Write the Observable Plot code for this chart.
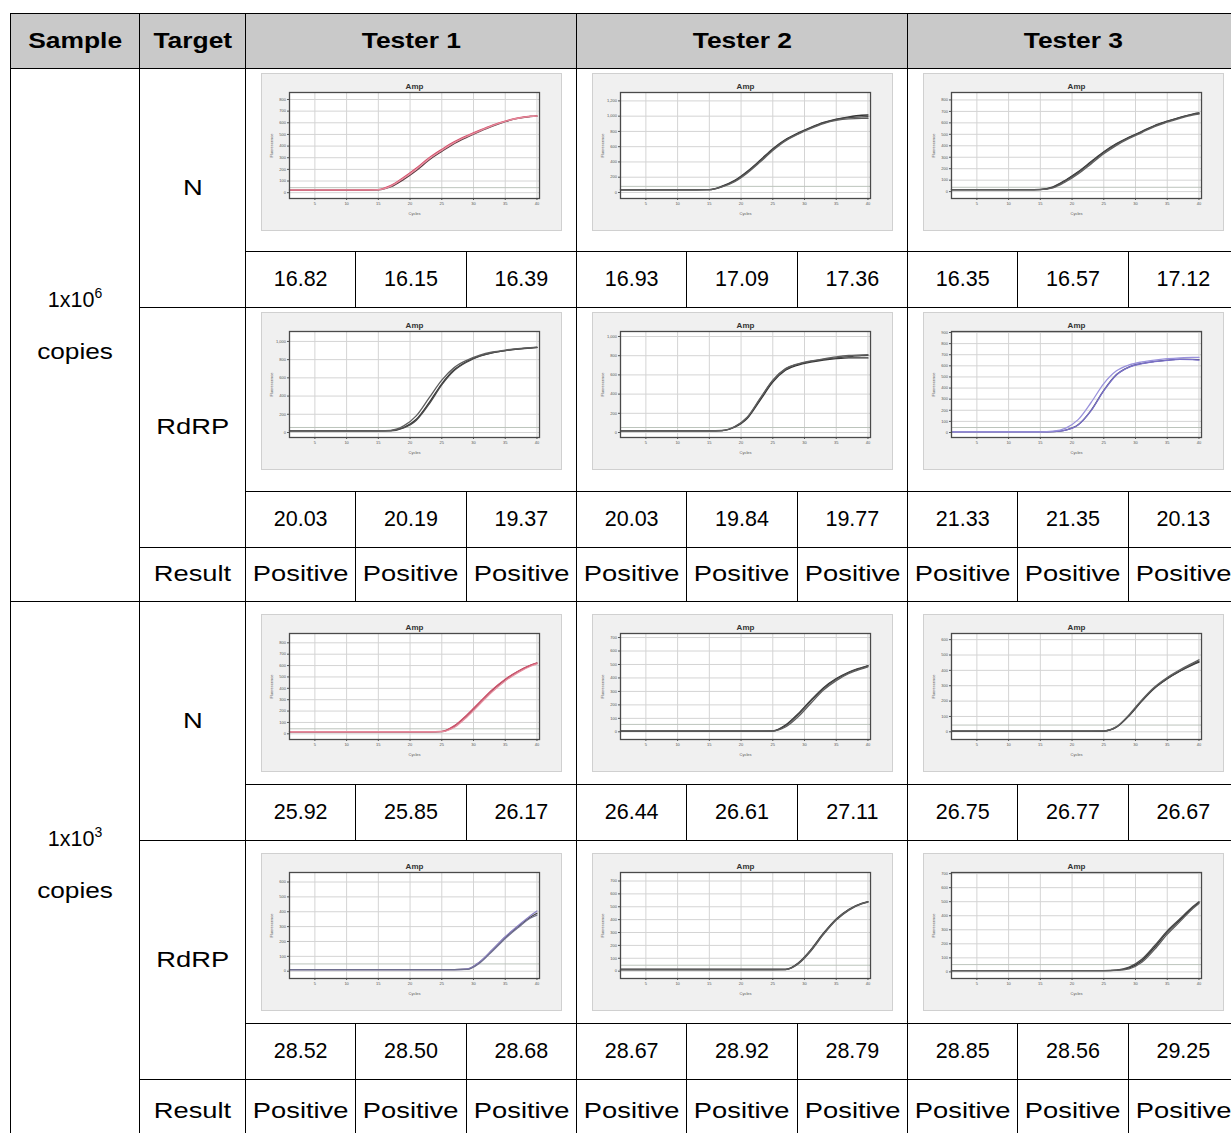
<!DOCTYPE html>
<html><head><meta charset="utf-8">
<script src="https://cdn.jsdelivr.net/npm/d3@7"></script>
<script src="https://cdn.jsdelivr.net/npm/@observablehq/plot@0.6"></script>
<style>
html,body{margin:0;padding:0;background:#fff;overflow:hidden;width:1231px;height:1133px;}
#tbl{position:absolute;left:10px;top:13px;border-collapse:collapse;table-layout:fixed;width:1228px;font-family:"Liberation Sans",Arial,sans-serif;color:#000;}
#tbl td,#tbl th{border:1.5px solid #000;padding:0;text-align:center;vertical-align:middle;overflow:hidden;white-space:nowrap;}
#tbl th{background:#c9c9c9;font-weight:bold;font-size:22px;}
#tbl td{font-size:21.5px;}
#tbl td.plotcell{text-align:left;vertical-align:top;padding-left:15px;}
.w{display:inline-block;transform:scaleX(1.27);transform-origin:center;}
th .w{transform:scaleX(1.2);}
.sample{line-height:52px;padding-bottom:24px;}
.sample .w{transform:scaleX(1.22);}
.sample sup{font-size:14px;position:relative;top:-1px;}
.thumb{width:301px;height:158px;box-sizing:border-box;border:1px solid #d0d0d0;background:#f0f0f0;}
.thumb svg{display:block;}
</style></head><body>
<table id="tbl"></table>
<script>
// ---------- table text ----------
const headers = ["Sample", "Target"];
const testers = ["Tester 1", "Tester 2", "Tester 3"];
const sampleBase = ["1x10", "1x10"];
const sampleExp = ["6", "3"];
const sampleUnit = ["copies", "copies"];
const targets = ["N", "RdRP"];
const resultLabel = "Result";
const ct_1e6_N = ["16.82", "16.15", "16.39", "16.93", "17.09", "17.36", "16.35", "16.57", "17.12"];
const ct_1e6_RdRP = ["20.03", "20.19", "19.37", "20.03", "19.84", "19.77", "21.33", "21.35", "20.13"];
const ct_1e3_N = ["25.92", "25.85", "26.17", "26.44", "26.61", "27.11", "26.75", "26.77", "26.67"];
const ct_1e3_RdRP = ["28.52", "28.50", "28.68", "28.67", "28.92", "28.79", "28.85", "28.56", "29.25"];
const results_1e6 = ["Positive", "Positive", "Positive", "Positive", "Positive", "Positive", "Positive", "Positive", "Positive"];
const results_1e3 = ["Positive", "Positive", "Positive", "Positive", "Positive", "Positive", "Positive", "Positive", "Positive"];

// ---------- amplification curves (cycle vs fluorescence) ----------
const cycles = [1, 4, 7, 10, 13, 15, 17, 19, 21, 23, 25, 27, 29, 31, 33, 35, 37, 39, 40];
const xTicks = [5, 10, 15, 20, 25, 30, 35, 40];

const amp_1e6_N_T1 = [
  [23,23,23,23,23,24,51,114,191,280,354,423,477,526,571,609,637,654,657],
  [22,22,22,22,23,27,62,132,212,300,372,438,490,537,580,615,641,656,660],
  [24,24,24,24,24,26,57,124,202,290,363,430,483,531,575,612,639,655,658]];
const amp_1e6_N_T2 = [
  [35,35,35,35,35,37,82,158,278,422,574,694,780,854,918,962,992,1012,1015],
  [34,34,34,34,34,36,78,150,268,410,562,686,772,848,912,955,980,990,992],
  [36,36,36,36,36,37,72,140,255,398,550,676,765,840,903,945,965,970,970]];
const amp_1e6_N_T3 = [
  [17,17,17,17,17,19,42,102,175,262,348,419,476,526,577,615,649,677,686],
  [16,16,16,16,16,18,38,96,168,255,342,414,472,522,574,612,646,675,684],
  [17,17,17,17,17,18,33,86,156,242,330,404,464,515,568,606,640,668,676]];
const amp_1e6_RdRP_T1 = [
  [18,18,18,18,18,18,20,55,145,327,535,691,782,842,878,900,917,930,935],
  [17,17,17,17,17,17,19,50,135,312,522,682,776,838,875,898,915,928,933],
  [18,18,18,18,18,19,24,72,185,380,575,715,795,850,884,905,921,933,938]];
const amp_1e6_RdRP_T2 = [
  [17,17,17,17,17,17,19,55,148,335,525,648,702,732,755,770,778,778,777],
  [17,17,17,17,17,17,20,60,158,350,540,660,712,740,762,778,790,800,803],
  [18,18,18,18,18,18,21,62,162,355,545,665,716,745,768,788,802,808,812]];
const amp_1e6_RdRP_T3 = [
  [5,5,5,5,5,5,8,22,72,200,380,522,590,622,640,652,660,658,655],
  [5,5,5,5,5,5,8,21,70,196,376,518,588,620,638,650,658,656,652],
  [6,6,6,6,6,6,12,40,118,270,440,555,608,635,652,664,672,676,676]];
const amp_1e3_N_T1 = [
  [18,18,18,18,18,18,18,18,18,18,20,68,163,275,385,476,547,601,621],
  [18,18,18,18,18,18,18,18,18,18,21,72,168,280,390,480,550,604,624],
  [18,18,18,18,18,18,18,18,18,18,19,58,150,262,372,465,538,594,614]];
const amp_1e3_N_T2 = [
  [5,5,5,5,5,5,5,5,5,5,7,50,135,235,328,395,444,477,492],
  [5,5,5,5,5,5,5,5,5,5,6,45,128,228,322,390,440,474,489],
  [6,6,6,6,6,6,6,6,6,6,6,36,112,212,310,380,433,468,483]];
const amp_1e3_N_T3 = [
  [4,4,4,4,4,4,4,4,4,4,5,31,107,202,285,346,395,436,454],
  [4,4,4,4,4,4,4,4,4,4,5,30,105,200,284,345,396,440,460],
  [5,5,5,5,5,5,5,5,5,5,6,34,112,208,292,354,404,447,469]];
const amp_1e3_RdRP_T1 = [
  [11,11,11,11,11,11,11,11,11,11,11,11,14,62,144,229,300,365,390],
  [11,11,11,11,11,11,11,11,11,11,11,11,15,64,146,232,305,375,405],
  [11,11,11,11,11,11,11,11,11,11,11,11,12,56,136,220,292,358,378]];
const amp_1e3_RdRP_T2 = [
  [13,13,13,13,13,13,13,13,13,13,13,14,64,167,296,406,481,527,540],
  [13,13,13,13,13,13,13,13,13,13,13,13,56,156,285,396,474,522,536],
  [13,13,13,13,13,13,13,13,13,13,13,13,60,162,290,402,478,525,538]];
const amp_1e3_RdRP_T3 = [
  [9,9,9,9,9,9,9,9,9,9,9,12,28,80,175,283,370,458,495],
  [9,9,9,9,9,9,9,9,9,9,9,13,34,90,186,292,378,464,500],
  [9,9,9,9,9,9,9,9,9,9,9,11,22,68,160,268,358,450,488]];

// y-axis domains, ticks, thresholds per panel
const yDomain_1e6_N = [[-50, 860], [-79, 1310], [-60, 865]];
const yTicks_1e6_N = [[0,100,200,300,400,500,600,700,800], [0,200,400,600,800,1000,1200], [0,100,200,300,400,500,600,700,800]];
const thr_1e6_N = [43, 80, 38];
const yDomain_1e6_RdRP = [[-55, 1109], [-52, 1052], [-45, 909]];
const yTicks_1e6_RdRP = [[0,200,400,600,800,1000], [0,200,400,600,800,1000], [0,100,200,300,400,500,600,700,800,900]];
const thr_1e6_RdRP = [55, 52, 45];
const yDomain_1e3_N = [[-50, 882], [-57, 730], [-50, 640]];
const yTicks_1e3_N = [[0,100,200,300,400,500,600,700,800], [0,100,200,300,400,500,600,700], [0,100,200,300,400,500,600]];
const thr_1e3_N = [44, 55, 44];
const yDomain_1e3_RdRP = [[-49, 664], [-57, 766], [-47, 708]];
const yTicks_1e3_RdRP = [[0,100,200,300,400,500,600], [0,100,200,300,400,500,600,700], [0,100,200,300,400,500,600,700]];
const thr_1e3_RdRP = [49, 46, 52];

const colorsDark = ["#333333", "#4a4a4a", "#5e5e5e"];
const colorsRed = ["#5a3a40", "#d2506a", "#e68a9c"];
const colorsBlue = ["#4a4a70", "#7a70c8", "#9a92dc"];
const colorsPurple = ["#444444", "#8c82c4", "#6e6e8e"];

const panels = [
  {reps: [amp_1e6_N_T1, amp_1e6_N_T2, amp_1e6_N_T3], dom: yDomain_1e6_N, ticks: yTicks_1e6_N, thr: thr_1e6_N, cols: [colorsRed, colorsDark, colorsDark]},
  {reps: [amp_1e6_RdRP_T1, amp_1e6_RdRP_T2, amp_1e6_RdRP_T3], dom: yDomain_1e6_RdRP, ticks: yTicks_1e6_RdRP, thr: thr_1e6_RdRP, cols: [colorsDark, colorsDark, colorsBlue]},
  {reps: [amp_1e3_N_T1, amp_1e3_N_T2, amp_1e3_N_T3], dom: yDomain_1e3_N, ticks: yTicks_1e3_N, thr: thr_1e3_N, cols: [colorsRed, colorsDark, colorsDark]},
  {reps: [amp_1e3_RdRP_T1, amp_1e3_RdRP_T2, amp_1e3_RdRP_T3], dom: yDomain_1e3_RdRP, ticks: yTicks_1e3_RdRP, thr: thr_1e3_RdRP, cols: [colorsPurple, colorsDark, colorsDark]}
];
const ctRows = [ct_1e6_N, ct_1e6_RdRP, ct_1e3_N, ct_1e3_RdRP];
const resultRows = [results_1e6, results_1e3];

function thumb(reps, dom, ticks, thr, cols) {
  const data = reps.flatMap((r, i) => r.map((v, j) => ({c: cycles[j], v, rep: i, col: cols[i]})));
  const div = document.createElement("div");
  div.className = "thumb";
  div.appendChild(Plot.plot({
    width: 299, height: 156,
    marginLeft: 27, marginRight: 22, marginTop: 18, marginBottom: 32,
    style: {background: "transparent", fontSize: "4px", fontFamily: "Liberation Sans, Arial, sans-serif", color: "#555"},
    color: {type: "identity"},
    x: {domain: [1, 40.4], ticks: xTicks, label: "Cycles", labelArrow: "none", labelAnchor: "center", labelOffset: 16, tickSize: 2, tickPadding: 1.5},
    y: {domain: dom, ticks: ticks, label: "Fluorescence", labelArrow: "none", labelAnchor: "center", labelOffset: 19, tickSize: 2, tickPadding: 1.5},
    marks: [
      Plot.frame({fill: "white"}),
      Plot.gridX(xTicks, {stroke: "#d4d4d4", strokeOpacity: 1}),
      Plot.gridY(ticks, {stroke: "#d4d4d4", strokeOpacity: 1}),
      Plot.ruleY([thr], {stroke: "#bcc4bc", strokeWidth: 1}),
      Plot.line(data, {x: "c", y: "v", z: "rep", stroke: "col", curve: "monotone-x", strokeWidth: 1.3}),
      Plot.frame({stroke: "#4a4a4a", strokeWidth: 1.3}),
      Plot.text(["Amp"], {frameAnchor: "top", dy: -9, fontSize: 8, fill: "#333", fontWeight: "bold"})
    ]
  }));
  return div;
}

// ---------- build the table ----------
const tbl = document.getElementById("tbl");
const cg = document.createElement("colgroup");
[129, 106, 110.33, 110.33, 110.34, 110.33, 110.33, 110.34, 110.33, 110.33, 110.34].forEach(w => {
  const c = document.createElement("col"); c.style.width = w + "px"; cg.appendChild(c);
});
tbl.appendChild(cg);

function tr(h) { const r = document.createElement("tr"); r.style.height = h + "px"; tbl.appendChild(r); return r; }
function cell(row, tag, text, opts = {}) {
  const c = document.createElement(tag);
  if (text != null) {
    if (opts.wide) {
      const sp = document.createElement("span");
      sp.className = "w";
      sp.textContent = text;
      c.appendChild(sp);
    } else c.textContent = text;
  }
  if (opts.colspan) c.colSpan = opts.colspan;
  if (opts.rowspan) c.rowSpan = opts.rowspan;
  if (opts.cls) c.className = opts.cls;
  row.appendChild(c);
  return c;
}

const hr = tr(55);
headers.forEach(h => cell(hr, "th", h, {wide: true}));
testers.forEach(t => cell(hr, "th", t, {colspan: 3, wide: true}));

const plotH = [[183, 184], [183, 183]];
const valH = 56;
const resH = [54, 64];
const plotPad = [4, 12];

[0, 1].forEach(s => {
  [0, 1].forEach(t => {
    const pi = s * 2 + t;
    const p = panels[pi];
    const r = tr(plotH[s][t]);
    if (t === 0) {
      const sc = cell(r, "td", null, {rowspan: 5});
      const d = document.createElement("div");
      d.className = "sample";
      d.innerHTML = sampleBase[s] + "<sup>" + sampleExp[s] + "</sup><br><span class='w'>" + sampleUnit[s] + "</span>";
      if (s === 1) d.style.paddingBottom = "21px";
      sc.appendChild(d);
    }
    cell(r, "td", targets[t], {rowspan: 2, wide: true});
    [0, 1, 2].forEach(k => {
      const c = cell(r, "td", null, {colspan: 3, cls: "plotcell"});
      c.style.paddingTop = plotPad[s] + "px";
      c.appendChild(thumb(p.reps[k], p.dom[k], p.ticks[k], p.thr[k], p.cols[k]));
    });
    const vr = tr(valH);
    ctRows[pi].forEach(v => cell(vr, "td", v));
  });
  const rr = tr(resH[s]);
  cell(rr, "td", resultLabel, {wide: true});
  resultRows[s].forEach(v => cell(rr, "td", v, {wide: true}));
});
</script>
</body></html>
